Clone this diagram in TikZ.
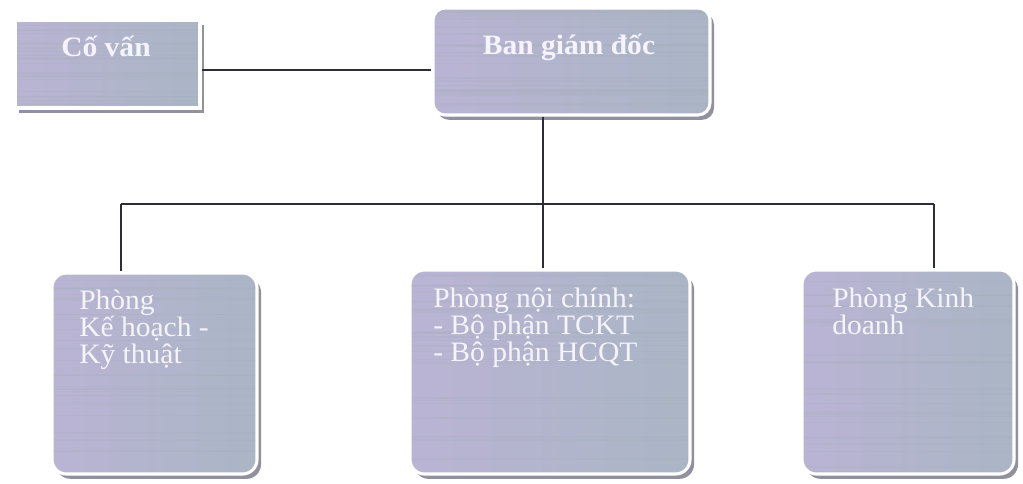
\documentclass[tikz,border=0pt]{standalone}
\usepackage{fontspec}
\setmainfont{Liberation Serif}
\newfontfamily\boxfont[FakeStretch=1.05]{Liberation Serif}
\usetikzlibrary{shadows,fit,calc}

\definecolor{lav}{RGB}{186,180,212}
\definecolor{steel}{RGB}{170,181,197}
\definecolor{streak}{RGB}{165,174,186}
\definecolor{shadowgray}{RGB}{145,145,158}
\definecolor{wire}{RGB}{45,45,55}
\definecolor{ink}{RGB}{244,244,250}

\pgfmathsetseed{7}

\begin{document}
\begin{tikzpicture}[x=0.025cm,y=-0.025cm,
  streaks/.style={path picture={
    \foreach \k in {1,...,26}{
      \pgfmathsetmacro{\f}{rnd}
      \pgfmathsetmacro{\w}{0.5+1.2*rnd}
      \draw[streak, opacity=0.22, line width=\w pt]
        ($(path picture bounding box.north west)!\f!(path picture bounding box.south west)$)
        -- ($(path picture bounding box.north east)!\f!(path picture bounding box.south east)$);
    }}},
  panel/.style={inner sep=0pt, draw=white, line width=2.2pt,
    left color=lav, right color=steel, streaks,
    drop shadow={shadow xshift=0.1cm, shadow yshift=-0.12cm,
      fill=shadowgray, opacity=1}},
  roundpanel/.style={panel, rounded corners=0.36cm},
  label/.style={text=ink, inner sep=0pt},
  boldlabel/.style={label, font=\boxfont\bfseries\fontsize{20}{19.2}\selectfont, anchor=base},
  bodylabel/.style={label, font=\boxfont\fontsize{20}{19.2}\selectfont,
    align=left, anchor=north west},
  link/.style={draw=wire, line width=0.8pt}
]
\useasboundingbox (0,0) rectangle (1023,483);

% boxes
\node[panel, fit={(15,20) (200,108)}] (cov) {};
\node[roundpanel, rounded corners=0.3cm, fit={(433,8) (710,115)}] (ban) {};
\node[roundpanel, fit={(52,273) (257,474)}] (p1) {};
\node[roundpanel, fit={(410,270) (690,474)}] (p2) {};
\node[roundpanel, fit={(802,270) (1014,474)}] (p3) {};

% titles
\node[boldlabel] (covt) at (106,56) {Cố vấn};
\node[boldlabel] (bant) at (569,54) {Ban giám đốc};
\node[bodylabel] (p1t) at (79,290) {Phòng\\Kế hoạch -\\Kỹ thuật};
\node[bodylabel] (p2t) at (433,288) {Phòng nội chính:\\- Bộ phận TCKT\\- Bộ phận HCQT};
\node[bodylabel] (p3t) at (832,288) {Phòng Kinh\\doanh};

% connectors
\coordinate (d1) at (121,204);
\coordinate (d2) at (543,204);
\coordinate (d3) at (934,204);
\draw[link] ([yshift=-0.15cm]cov.east) -- ([yshift=-0.15cm]cov.east -| ban.west);
\draw[link] (ban.south -| d2) -- (d2);
\draw[link] (d1) -- (d3);
\draw[link] (d1) -- (d1 |- p1.north);
\draw[link] (d2) -- (d2 |- p2.north);
\draw[link] (d3) -- (d3 |- p3.north);
\end{tikzpicture}
\end{document}
